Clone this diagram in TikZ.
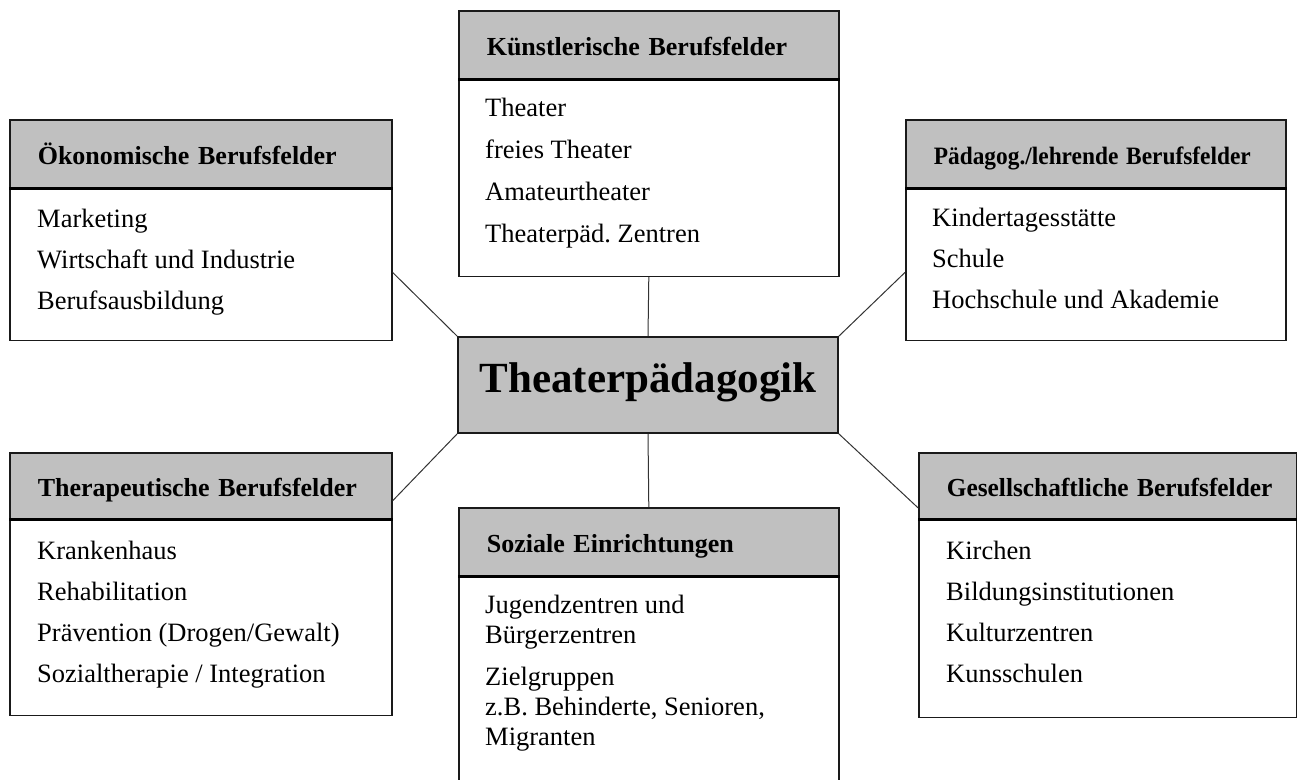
\documentclass[tikz,border=0pt]{standalone}
\usepackage{fontspec}
\setmainfont{Liberation Serif}
\frenchspacing
\definecolor{hdrgray}{HTML}{C0C0C0}
\definecolor{edge}{HTML}{1A1A1A}
\newcommand\mylist[1]{\begin{tabular}{@{}l@{}}#1\end{tabular}}
\begin{document}
\begin{tikzpicture}[x=1pt,y=-1pt,
  box/.style={draw=edge, line width=1.6pt, anchor=north west, inner sep=0pt},
  hdr/.style={box, fill=hdrgray, minimum height=#1, inner xsep=28pt,
    text height=22pt, text depth=1pt, font=\fontsize{26}{30}\selectfont\bfseries},
  bodybox/.style={box, fill=white},
  items/.style={anchor=north west, inner sep=0pt,
    font=\fontsize{26.5}{41}\selectfont},
  sepline/.style={line width=3pt, draw=black},
  link/.style={draw=black!80, line width=1pt},
]
\useasboundingbox (0,0) rectangle (1297,779);
\clip (0,0) rectangle (1297,779);

% Oekonomische
\node[hdr=68pt, minimum width=382pt, text width=326pt] (oekH) at (9,119) {\noindent\mbox{Ökonomische Berufsfelder}};
\node[bodybox, minimum width=382pt, minimum height=151pt] (oekB) at (oekH.south west) {};
\draw[sepline] (oekH.south west) -- (oekH.south east);
\node[items] (oekL) at ([shift={(28,10.3)}]oekB.north west) {\mylist{Marketing\\Wirtschaft und Industrie\\Berufsausbildung}};

% Kuenstlerische
\node[hdr=68pt, minimum width=380pt, text width=324pt] (kuenH) at (458,10) {\noindent\mbox{Künstlerische Berufsfelder}};
\node[bodybox, minimum width=380pt, minimum height=196pt] (kuenB) at (kuenH.south west) {};
\draw[sepline] (kuenH.south west) -- (kuenH.south east);
\node[items, font=\fontsize{26.5}{42}\selectfont] (kuenL) at ([shift={(27,7.0)}]kuenB.north west) {\mylist{Theater\\freies Theater\\Amateurtheater\\Theaterpäd. Zentren}};

% Paedagogische
\node[hdr=68pt, minimum width=380pt, text width=324pt, font=\fontsize{25}{30}\selectfont\bfseries] (paedH) at (905,119) {\noindent\mbox{\scalebox{0.935}[1]{Pädagog./lehrende Berufsfelder}}};
\node[bodybox, minimum width=380pt, minimum height=151pt] (paedB) at (paedH.south west) {};
\draw[sepline] (paedH.south west) -- (paedH.south east);
\node[items] (paedL) at ([shift={(27,9.3)}]paedB.north west) {\mylist{Kindertagesstätte\\Schule\\Hochschule und Akademie}};

% Therapeutische
\node[hdr=66pt, minimum width=382pt, text width=326pt] (therH) at (9,452) {\noindent\mbox{Therapeutische Berufsfelder}};
\node[bodybox, minimum width=382pt, minimum height=195pt] (therB) at (therH.south west) {};
\draw[sepline] (therH.south west) -- (therH.south east);
\node[items] (therL) at ([shift={(28,11.3)}]therB.north west) {\mylist{Krankenhaus\\Rehabilitation\\Prävention (Drogen/Gewalt)\\Sozialtherapie / Integration}};

% Soziale
\node[hdr=68pt, minimum width=380pt, text width=324pt] (sozH) at (458,507) {\noindent\mbox{Soziale Einrichtungen}};
\node[bodybox, minimum width=380pt, minimum height=230pt] (sozB) at (sozH.south west) {};
\draw[sepline] (sozH.south west) -- (sozH.south east);
\node[items, font=\fontsize{26.5}{30}\selectfont] (sozL) at ([shift={(27,16)}]sozB.north west) {\mylist{Jugendzentren und\\Bürgerzentren\\[12pt]Zielgruppen\\z.B. Behinderte, Senioren,\\Migranten}};

% Gesellschaftliche
\node[hdr=66pt, minimum width=378pt, text width=322pt] (gesH) at (918,452) {\noindent\mbox{\scalebox{0.976}[1]{Gesellschaftliche Berufsfelder}}};
\node[bodybox, minimum width=378pt, minimum height=197pt] (gesB) at (gesH.south west) {};
\draw[sepline] (gesH.south west) -- (gesH.south east);
\node[items] (gesL) at ([shift={(28,11.3)}]gesB.north west) {\mylist{Kirchen\\Bildungsinstitutionen\\Kulturzentren\\Kunsschulen}};

% Center
\node[box, fill=hdrgray, minimum width=380pt, minimum height=96pt, anchor=center,
  font=\fontsize{43}{50}\selectfont\bfseries, text height=30pt, text depth=16pt] (tp) at (648,385) {Theaterpädagogik};

% Connectors
\draw[link] (kuenB.south) -- (tp.north);
\draw[link] ([yshift=-7.5pt]oekB.east) -- (tp.north west);
\draw[link] ([yshift=-7.5pt]paedB.west) -- (tp.north east);
\draw[link] ([yshift=-15pt]therH.east) -- (tp.south west);
\draw[link] (tp.south east) -- ([yshift=-22pt]gesH.west);
\draw[link] (tp.south) -- (sozH.north);
\end{tikzpicture}
\end{document}
